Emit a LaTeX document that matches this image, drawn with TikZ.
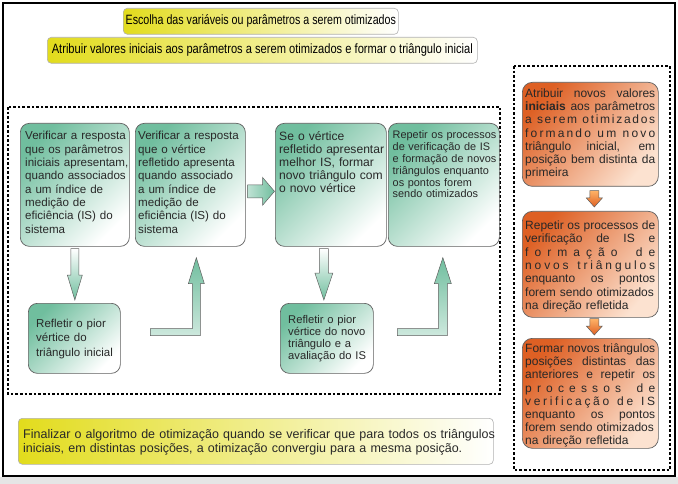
\documentclass[tikz,border=0pt]{standalone}
\usepackage{fontspec}
\setmainfont{Liberation Sans}
\usepackage{graphicx}
\usetikzlibrary{calc}
\definecolor{gdark}{RGB}{112,190,158}
\definecolor{odark}{RGB}{222,96,36}
\definecolor{olight}{RGB}{252,226,208}
\definecolor{ylw}{RGB}{226,220,28}
\definecolor{edge}{RGB}{95,95,95}
\definecolor{ink}{RGB}{40,40,40}
\tikzset{
  gbox/.style={draw=edge, line width=0.7pt, rounded corners=9pt, left color=gdark, right color=white, shading angle=45, inner sep=0pt, anchor=north west},
  obox/.style={draw=edge, line width=0.7pt, rounded corners=10pt, left color=odark, right color=olight, shading angle=50, inner sep=0pt, anchor=north west},
  ybox/.style={draw=black!30, line width=0.6pt, rounded corners=4pt, left color=ylw, right color=white, inner sep=0pt, anchor=north west},
  txt/.style={inner sep=0pt, anchor=base west, align=left, text=ink},
  dotline/.style={line width=2.6pt, dash pattern=on 2.6pt off 2pt},
  gdown/.style={draw=edge, line width=0.5pt, top color=white, bottom color=gdark},
  gup/.style={draw=edge, line width=0.5pt, top color=gdark, bottom color=gdark!35},
  gright/.style={draw=edge, line width=0.5pt, left color=gdark!45, right color=gdark},
  odown/.style={draw=edge, line width=0.5pt, top color=orange!60, bottom color=odark},
}
\newcommand\downarr[6]{%
  \path[#1] ($(#2)+(-#4,0)$) -- ($(#2)+(#4,0)$) -- ($(#3)+(#4,-#6)$) -- ($(#3)+(#5,-#6)$) -- (#3) -- ($(#3)+(-#5,-#6)$) -- ($(#3)+(-#4,-#6)$) -- cycle;}
\newcommand\oline[1]{{\spaceskip=0.28em plus 1fil\makebox[130pt][s]{#1}}}
\begin{document}
\begin{tikzpicture}[x=1pt,y=-1pt]
\useasboundingbox (0,0) rectangle (678,484);
\fill[black!10] (0,477) rectangle (678,484);
\draw[line width=2.5pt, fill=white] (3,3) rectangle (675,476);

% dotted regions
\draw[dotline] (8,107) rectangle (500,394);
\draw[dotline] (514,66) rectangle (670,470);

% title boxes
\node[ybox, minimum width=275pt, minimum height=26pt, font=\fontsize{13.5}{15}\selectfont] (T1) at (123,8)
  {\scalebox{0.79}[1]{Escolha das variáveis ou parâmetros a serem otimizados}};
\node[ybox, minimum width=430pt, minimum height=26pt, font=\fontsize{13.5}{15}\selectfont] (T2) at (47,37)
  {\scalebox{0.824}[1]{Atribuir valores iniciais aos parâmetros a serem otimizados e formar o triângulo inicial}};

% green boxes
\node[gbox, minimum width=109pt, minimum height=123pt] (A) at (20,123) {};
\node[gbox, minimum width=110pt, minimum height=123pt] (B) at (135,123) {};
\node[gbox, minimum width=111pt, minimum height=123pt] (C) at (275,123) {};
\node[gbox, minimum width=111pt, minimum height=123pt] (D) at (388,123) {};
\node[gbox, minimum width=92pt, minimum height=70pt] (E) at (28,303) {};
\node[gbox, minimum width=93pt, minimum height=70pt] (F) at (280,303) {};

% orange boxes
\node[obox, minimum width=136pt, minimum height=104pt] (O1) at (522,82) {};
\node[obox, minimum width=136pt, minimum height=106pt] (O2) at (522,211) {};
\node[obox, minimum width=136pt, minimum height=110pt] (O3) at (522,338) {};

% bottom box
\node[ybox, minimum width=475pt, minimum height=46pt] (Z) at (18,418) {};

% green arrows
\coordinate (a1s) at ($(A.south)+(0,2)$);
\coordinate (a1t) at ($(a1s |- E.north)+(0,-3)$);
\downarr{gdown}{a1s}{a1t}{4}{7.5}{25}
\coordinate (c1s) at ($(C.south)+(-7,2)$);
\coordinate (c1t) at ($(c1s |- F.north)+(0,-3)$);
\downarr{gdown}{c1s}{c1t}{4.5}{9}{27}
\coordinate (r1s) at ($(B.east)+(2,6.5)$);
\coordinate (r1t) at ($(r1s -| C.west)+(-0.5,0)$);
\path[gright] ($(r1s)+(0,-6.5)$) -- ($(r1t)+(-12,-6.5)$) -- ($(r1t)+(-12,-14)$) -- (r1t) -- ($(r1t)+(-12,14)$) -- ($(r1t)+(-12,6.5)$) -- ($(r1s)+(0,6.5)$) -- cycle;
\coordinate (l1t) at ($(B.south)+(6,11)$);
\path[gup] ($(l1t)+(-46,71)$) -- ($(l1t)+(-4,71)$) -- ($(l1t)+(-4,26)$) -- ($(l1t)+(-8,26)$) -- (l1t) -- ($(l1t)+(8,26)$) -- ($(l1t)+(4,26)$) -- ($(l1t)+(4,78)$) -- ($(l1t)+(-46,78)$) -- cycle;
\coordinate (l2t) at ($(D.south)+(-1,11)$);
\path[gup] ($(l2t)+(-45.5,71)$) -- ($(l2t)+(-4.5,71)$) -- ($(l2t)+(-4.5,26)$) -- ($(l2t)+(-8.5,26)$) -- (l2t) -- ($(l2t)+(8.5,26)$) -- ($(l2t)+(4.5,26)$) -- ($(l2t)+(4.5,78)$) -- ($(l2t)+(-45.5,78)$) -- cycle;

% orange arrows
\coordinate (o1s) at ($(O1.south)+(4,4)$);
\coordinate (o1t) at ($(o1s |- O2.north)+(0,-4)$);
\downarr{odown}{o1s}{o1t}{4.5}{8}{9}
\coordinate (o2s) at ($(O2.south)+(4,1)$);
\coordinate (o2t) at ($(o2s |- O3.north)+(0,-3)$);
\downarr{odown}{o2s}{o2t}{4.5}{8}{9}

% texts in green boxes
\node[txt, text width=106pt, font=\fontsize{11.6}{13.3}\selectfont] (At) at ($(A.north west)+(5,17)$)
  {Verificar a resposta\\que os parâmetros\\iniciais apresentam,\\quando associados\\a um índice de\\medição de\\eficiência (IS) do\\sistema};
\node[txt, text width=106pt, font=\fontsize{11.6}{13.3}\selectfont] (Bt) at ($(B.north west)+(3,17)$)
  {Verificar a resposta\\que o vértice\\refletido apresenta\\quando associado\\a um índice de\\medição de\\eficiência (IS) do\\sistema};
\node[txt, text width=106pt, font=\fontsize{12.1}{12.9}\selectfont] (Ct) at ($(C.north west)+(4,18)$)
  {Se o vértice\\refletido apresentar\\melhor IS, formar\\novo triângulo com\\o novo vértice};
\node[txt, text width=106pt, font=\fontsize{10.9}{11.8}\selectfont] (Dt) at ($(D.north west)+(4.5,16)$)
  {Repetir os processos\\de verificação de IS\\e formação de novos\\triângulos enquanto\\os pontos forem\\sendo otimizados};
\node[txt, text width=86pt, font=\fontsize{11.5}{14.5}\selectfont] (Et) at ($(E.north west)+(8,24)$)
  {Refletir o pior\\vértice do\\triângulo inicial};
\node[txt, text width=86pt, font=\fontsize{11.2}{12.3}\selectfont] (Ft) at ($(F.north west)+(8,20)$)
  {Refletir o pior\\vértice do novo\\triângulo e a\\avaliação do IS};

% texts in orange boxes
\node[txt, text width=130pt, font=\fontsize{12}{13.2}\selectfont] (O1t) at ($(O1.north west)+(3,15.5)$)
  {\oline{Atribuir novos valores}\\
   \oline{\textbf{iniciais} aos parâmetros}\\
   \oline{a\hfil\hfil\hfil s\hfil e\hfil r\hfil e\hfil m\hfil\hfil\hfil o\hfil t\hfil i\hfil m\hfil i\hfil z\hfil a\hfil d\hfil o\hfil s}\\
   \oline{f\hfil o\hfil r\hfil m\hfil a\hfil n\hfil d\hfil o\hfil\hfil\hfil u\hfil m\hfil\hfil\hfil n\hfil o\hfil v\hfil o}\\
   \oline{triângulo inicial, em}\\
   \oline{posição bem distinta da}\\
   primeira};
\node[txt, text width=130pt, font=\fontsize{12}{13.3}\selectfont] (O2t) at ($(O2.north west)+(3,18.7)$)
  {\oline{Repetir os processos de}\\
   \oline{verificação de IS e}\\
   \oline{f\hfil o\hfil r\hfil m\hfil a\hfil ç\hfil ã\hfil o\hfil\hfil\hfil d\hfil e}\\
   \oline{n\hfil o\hfil v\hfil o\hfil s\hfil\hfil\hfil t\hfil r\hfil i\hfil â\hfil n\hfil g\hfil u\hfil l\hfil o\hfil s}\\
   \oline{enquanto os pontos}\\
   forem sendo otimizados\\
   na direção refletida};
\node[txt, text width=130pt, font=\fontsize{12}{13.2}\selectfont] (O3t) at ($(O3.north west)+(3,14.5)$)
  {\oline{Formar novos triângulos}\\
   \oline{posições distintas das}\\
   \oline{anteriores e repetir os}\\
   \oline{p\hfil r\hfil o\hfil c\hfil e\hfil s\hfil s\hfil o\hfil s\hfil\hfil\hfil d\hfil e}\\
   \oline{v\hfil e\hfil r\hfil i\hfil f\hfil i\hfil c\hfil a\hfil ç\hfil ã\hfil o\hfil\hfil\hfil d\hfil e\hfil\hfil\hfil I\hfil S}\\
   \oline{enquanto os pontos}\\
   forem sendo otimizados\\
   na direção refletida};

% bottom text
\node[txt, text width=480pt, font=\fontsize{12.5}{14.3}\selectfont] (Zt) at ($(Z.north west)+(5,20.5)$)
  {\mbox{Finalizar o algoritmo de otimização quando se verificar que para todos os triângulos}\\
   \mbox{iniciais, em distintas posições, a otimização convergiu para a mesma posição.}};
\end{tikzpicture}
\end{document}
